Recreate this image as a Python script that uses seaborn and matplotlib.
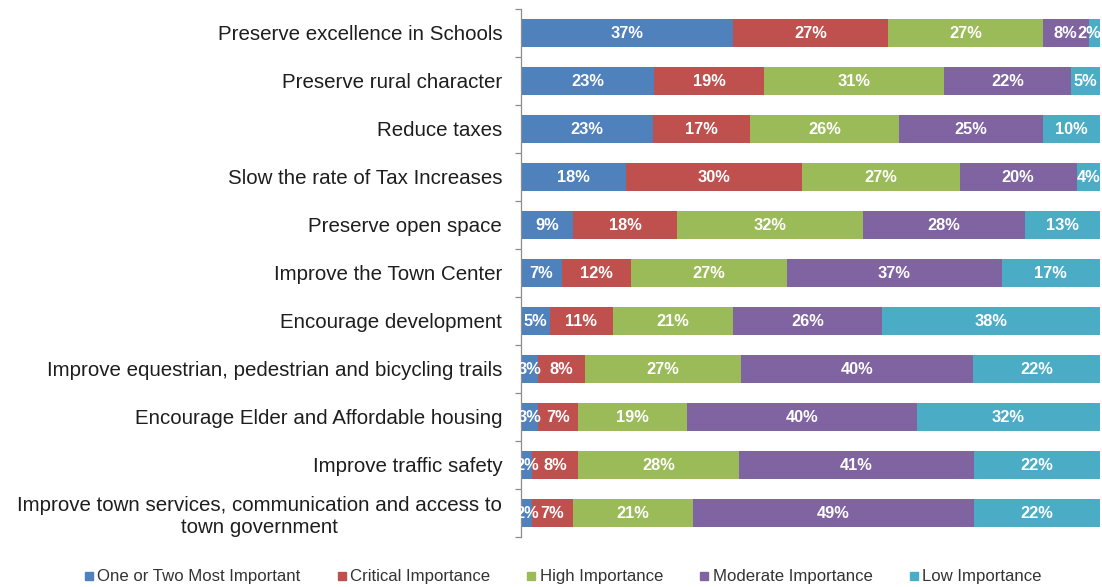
import numpy as np
import pandas as pd
import matplotlib
matplotlib.use("Agg")
import matplotlib.pyplot as plt
import seaborn as sns
from matplotlib.lines import Line2D
from matplotlib.ticker import FixedLocator

# Survey priorities (top to bottom) and the share of responses per importance level
categories = [
    "Preserve excellence in Schools",
    "Preserve rural character",
    "Reduce taxes",
    "Slow the rate of Tax Increases",
    "Preserve open space",
    "Improve the Town Center",
    "Encourage development",
    "Improve equestrian, pedestrian and bicycling trails",
    "Encourage Elder and Affordable housing",
    "Improve traffic safety",
    "Improve town services, communication and access to\ntown government",
]
levels = [
    "One or Two Most Important",
    "Critical Importance",
    "High Importance",
    "Moderate Importance",
    "Low Importance",
]
most_important = [37, 23, 23, 18, 9, 7, 5, 3, 3, 2, 2]
critical = [27, 19, 17, 30, 18, 12, 11, 8, 7, 8, 7]
high = [27, 31, 26, 27, 32, 27, 21, 27, 19, 28, 21]
moderate = [8, 22, 25, 20, 28, 37, 26, 40, 40, 41, 49]
low = [2, 5, 10, 4, 13, 17, 38, 22, 32, 22, 22]

colors = ["#4F81BD", "#C0504D", "#9BBB59", "#8064A2", "#4BACC6"]

sns.set_theme(style="white")
plt.rcParams["font.family"] = ["Liberation Sans", "DejaVu Sans"]

series = [most_important, critical, high, moderate, low]
df = pd.DataFrame({"Priority": categories})
for name, vals in zip(levels, series):
    df[name] = vals

# 100% stacked layout: each row's rounded percentages are scaled to fill the bar
row_total = df[levels].sum(axis=1)
share = df[levels].div(row_total, axis=0) * 100
cum = share.cumsum(axis=1)

W, H = 1102, 587
fig = plt.figure(figsize=(W / 100, H / 100), dpi=100)
ax = fig.add_axes([521 / W, 1 - 537 / H, (1100 - 521) / W, 528 / H])

# Stacked bars: draw running totals from the last level back to the first
for k in reversed(range(len(levels))):
    sns.barplot(
        data=cum.assign(Priority=categories),
        x=levels[k], y="Priority", orient="h", order=categories,
        color=colors[k], saturation=1, width=0.6, ax=ax,
        edgecolor="none", linewidth=0,
    )

# Percentage labels centred in each segment, kept inside the right edge
for k, name in enumerate(levels):
    for i, v in enumerate(df[name]):
        w = share[name].iloc[i]
        left = cum[name].iloc[i] - w
        xc = min(left + w / 2, 98.1)
        ax.text(xc, i, f"{v}%", ha="center", va="center",
                color="white", fontweight="bold", fontsize=11.8)

ax.set_xlim(0, 100)
ax.set_ylim(len(categories) - 0.5, -0.5)
ax.set_xlabel("")
ax.set_ylabel("")
ax.set_xticks([])

for s in ("top", "right", "bottom"):
    ax.spines[s].set_visible(False)
ax.spines["left"].set_color("#8c8c8c")
ax.spines["left"].set_linewidth(0.9)

ax.set_yticks(range(len(categories)))
ax.set_yticklabels(categories, fontsize=14.8, color="#1e1e1e")
for lab in ax.get_yticklabels():
    lab.set_multialignment("center")
ax.tick_params(axis="y", which="major", length=0, pad=13.5, left=True)
ax.yaxis.set_minor_locator(FixedLocator(np.arange(-0.5, len(categories), 1.0)))
ax.tick_params(axis="y", which="minor", length=4, width=0.9,
               color="#8c8c8c", direction="out", left=True)

handles = [Line2D([], [], marker="s", linestyle="", color=c, markersize=5.5)
           for c in colors]
fig.legend(handles, levels, loc="center", bbox_to_anchor=(563 / W, 10 / H),
           ncol=5, frameon=False, fontsize=12.1, handlelength=0.5,
           handletextpad=0.25, columnspacing=2.2, labelcolor="#333333")

fig.savefig("out.png", dpi=100)
